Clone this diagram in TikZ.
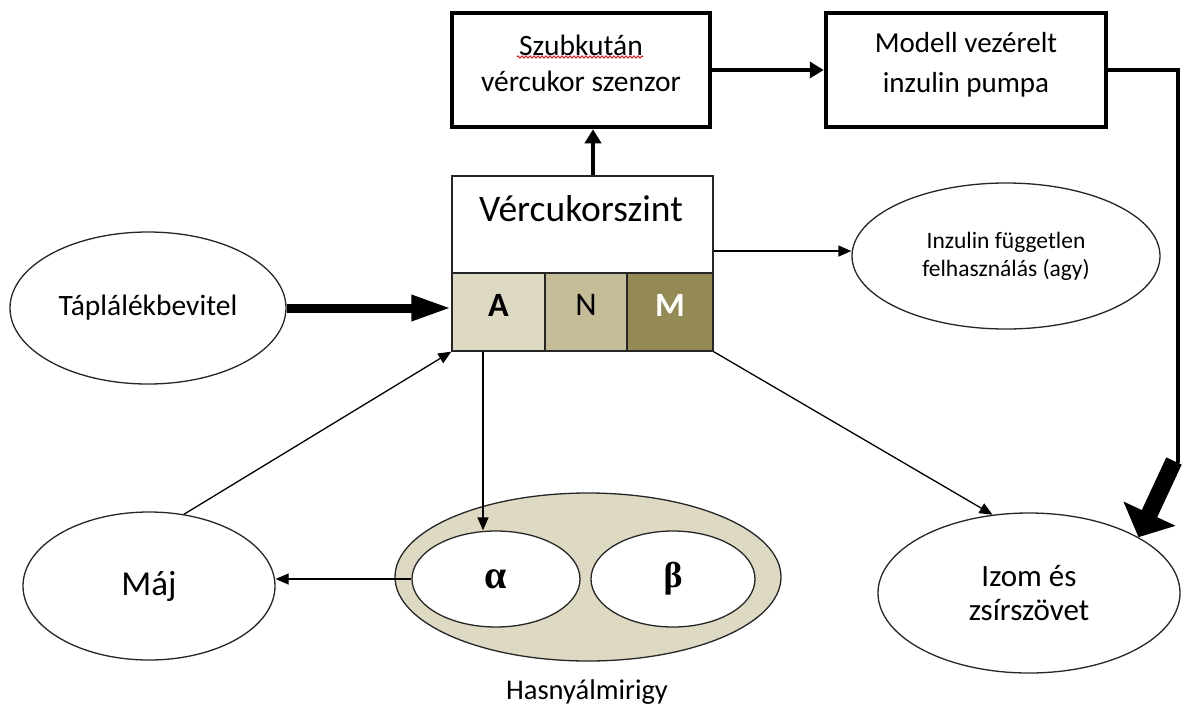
\documentclass[tikz,border=0pt]{standalone}
\usepackage{fontspec}
\setmainfont{Carlito}
\newfontfamily\greekfont{Liberation Serif}
\usetikzlibrary{arrows.meta,shapes.geometric,decorations.pathmorphing,calc}

\definecolor{tanlight}{HTML}{DDD9C3}
\definecolor{tanmid}{HTML}{C4BD97}
\definecolor{olive}{HTML}{948A54}

\begin{document}
\begin{tikzpicture}[x=1pt,y=-1pt,
  lbl/.style={inner sep=0pt, align=center, text=black},
  oval/.style={ellipse, draw=black!85, line width=1.3pt, fill=white, inner sep=0pt, align=center},
  heavybox/.style={draw=black, line width=4.5pt, fill=white, minimum height=114pt, inner sep=0pt},
  cell/.style={draw=black!85, line width=1.3pt, minimum height=78pt, inner sep=0pt,
    font=\fontsize{33}{33}\selectfont, text depth=14pt},
  thinarrow/.style={draw=black, line width=1.3pt, -{Triangle[length=13pt,width=11pt]}},
  midarrow/.style={draw=black, line width=4.5pt, -{Triangle[length=14pt,width=16pt]}},
  foodarrow/.style={draw=black, line width=9pt, -{Triangle[length=40pt,width=24pt]}},
  bigarrow/.style={draw=black, line width=17pt, -{Triangle[length=26pt,width=56pt]}},
  heavyline/.style={draw=black, line width=4.5pt},
  spellmark/.style={draw=red, line width=0.8pt, decorate,
    decoration={zigzag, segment length=4pt, amplitude=1.2pt}}]

\useasboundingbox[fill=white] (0,0) rectangle (1184,713);

% top row: sensor and pump
\node[heavybox, minimum width=258pt] (sensor) at (581,70) {};
\node[lbl, font=\fontsize{29.5}{36}\selectfont] (sensortext) at (581,63) {Szubkután\\vércukor szenzor};
\draw[spellmark] (517,57) -- (643,57);
\node[heavybox, minimum width=280pt] (pump) at (966,70) {};
\node[lbl, font=\fontsize{29}{40}\selectfont] (pumptext) at (966,65) {Modell vezérelt\\inzulin pumpa};

% blood glucose block with its three cells
\node[draw=black!85, line width=1.3pt, fill=white, minimum width=261pt, minimum height=97pt, inner sep=0pt] (vc) at (582.5,224.5) {};
\node[lbl, font=\fontsize{37.5}{40}\selectfont] (vctext) at (581,209) {Vércukorszint};
\node[cell, fill=tanlight, minimum width=93pt, font=\fontsize{34}{34}\selectfont\bfseries] (cellA) at (498.5,312) {A};
\node[cell, fill=tanmid, minimum width=82pt] (cellN) at (586,312) {N};
\node[cell, fill=olive, minimum width=86pt, text=white, font=\fontsize{34}{34}\selectfont\bfseries] (cellM) at (670,312) {M};

% ovals
\node[oval, minimum width=276pt, minimum height=152pt, font=\fontsize{29.5}{34}\selectfont] (food) at (148,308) {Táplálékbevitel};
\node[oval, minimum width=252pt, minimum height=148pt, font=\fontsize{35}{40}\selectfont] (maj) at (149,586) {Máj};
\node[oval, minimum width=308pt, minimum height=146pt, font=\fontsize{23.5}{28}\selectfont] (brain) at (1006,256) {Inzulin független\\felhasználás (agy)};
\node[oval, minimum width=302pt, minimum height=160pt, font=\fontsize{31}{34}\selectfont] (izom) at (1029,593) {Izom és\\zsírszövet};

% pancreas with alpha and beta cells
\node[ellipse, draw=black!85, line width=1.3pt, fill=tanlight, minimum width=386pt, minimum height=168pt] (pancreas) at (588,577) {};
\node[oval, minimum width=168pt, minimum height=96pt, font=\greekfont\bfseries\fontsize{40}{40}\selectfont] (alpha) at (496,579) {α};
\node[oval, minimum width=164pt, minimum height=96pt, font=\greekfont\bfseries\fontsize{36}{40}\selectfont] (beta) at (673,579) {β};
\node[lbl, font=\fontsize{28.5}{32}\selectfont] (hasny) at (587,692) {Hasnyálmirigy};

% connectors
\coordinate (upx) at (593,0);
\draw[midarrow] (vc.north -| upx) -- (sensor.south -| upx);
\draw[midarrow] (sensor.east) -- (pump.west);
\coordinate (bend) at (1178,463);
\draw[heavyline] (pump.east) -| (bend);
\draw[bigarrow] ($(bend)+(-4,-2)$) -- (izom.27);

\draw[foodarrow] (food.east) -- (food.east -| cellA.west);
\coordinate (brainout) at ($(vc.south east)!0.23!(vc.north east)$);
\draw[thinarrow] (brainout) -- (brainout -| brain.west);
\draw[thinarrow] (maj.64) -- (cellA.south west);
\coordinate (ax) at (483,0);
\draw[thinarrow] (cellA.south -| ax) -- (alpha.north -| ax);
\draw[thinarrow] (alpha.west) -- (alpha.west -| maj.east);
\draw[thinarrow] (cellM.south east) -- (izom.115);
\end{tikzpicture}
\end{document}
